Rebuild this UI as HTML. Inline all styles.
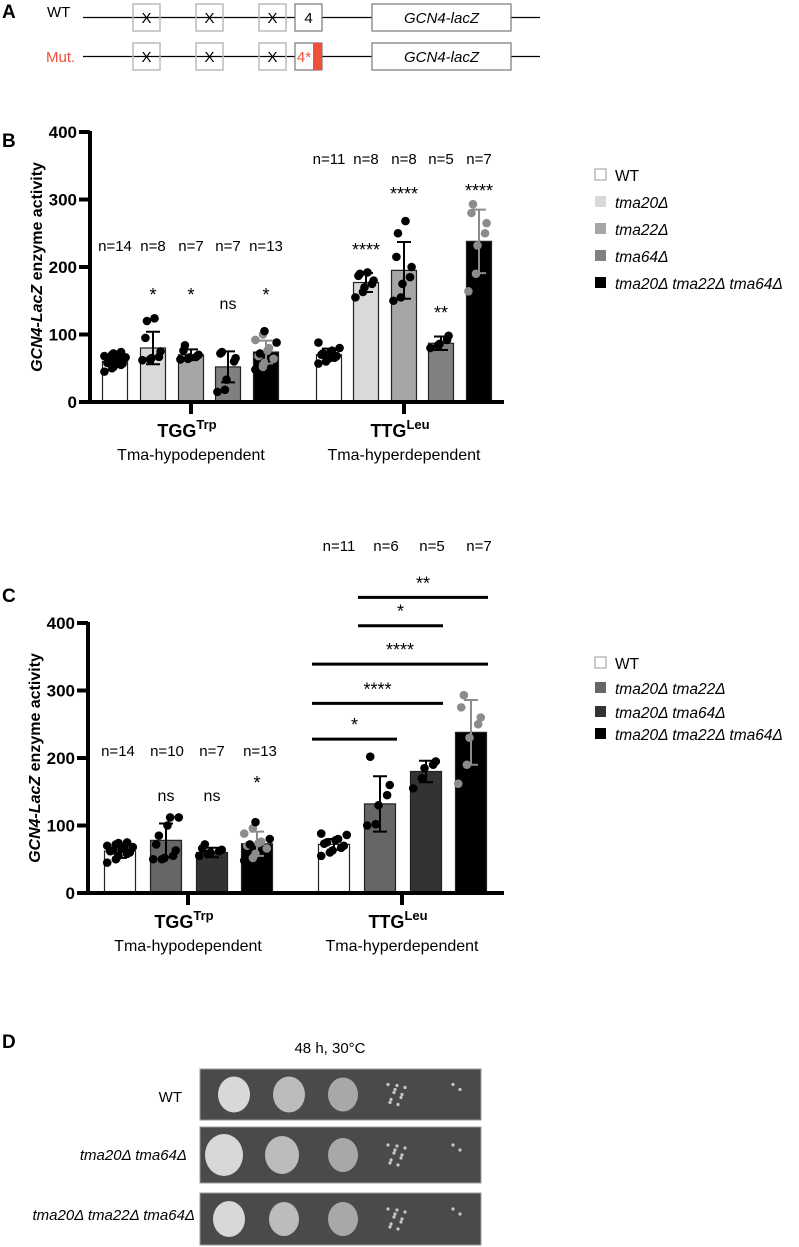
<!DOCTYPE html>
<html><head><meta charset="utf-8"><style>
html,body{margin:0;padding:0;background:#fff}
svg{display:block;font-family:"Liberation Sans",Arial,sans-serif}
</style></head><body>
<svg id="fig" width="799" height="1247" viewBox="0 0 799 1247" xmlns="http://www.w3.org/2000/svg">
<g>
<text x="2" y="18" font-size="19" font-weight="bold">A</text>
<text x="47" y="17" font-size="15">WT</text>
<text x="46" y="62" font-size="15" fill="#f0503a">Mut.</text>
<line x1="83" y1="17.5" x2="540" y2="17.5" stroke="#000" stroke-width="1.2"/>
<line x1="83" y1="56.5" x2="540" y2="56.5" stroke="#000" stroke-width="1.2"/>
<g font-size="15" text-anchor="middle">
<rect x="133" y="4" width="27" height="27" fill="none" stroke="#bbb" stroke-width="1.5"/><text x="146.5" y="23">X</text>
<rect x="196" y="4" width="27" height="27" fill="none" stroke="#bbb" stroke-width="1.5"/><text x="209.5" y="23">X</text>
<rect x="259" y="4" width="27" height="27" fill="none" stroke="#bbb" stroke-width="1.5"/><text x="272.5" y="23">X</text>
<rect x="295" y="4" width="27" height="27" fill="#fff" stroke="#777" stroke-width="1.2"/><text x="308.5" y="23">4</text>
<rect x="372" y="4" width="139" height="27" fill="#fff" stroke="#777" stroke-width="1.2"/><text x="441.5" y="23" font-style="italic">GCN4-lacZ</text>
</g>
<g font-size="15" text-anchor="middle">
<rect x="133" y="43" width="27" height="27" fill="none" stroke="#bbb" stroke-width="1.5"/><text x="146.5" y="62">X</text>
<rect x="196" y="43" width="27" height="27" fill="none" stroke="#bbb" stroke-width="1.5"/><text x="209.5" y="62">X</text>
<rect x="259" y="43" width="27" height="27" fill="none" stroke="#bbb" stroke-width="1.5"/><text x="272.5" y="62">X</text>
<rect x="295" y="43" width="27" height="27" fill="#fff" stroke="#777" stroke-width="1.2"/>
<rect x="313" y="43" width="9" height="27" fill="#f0503a"/>
<text x="304" y="62" fill="#f0503a">4*</text>
<rect x="372" y="43" width="139" height="27" fill="#fff" stroke="#777" stroke-width="1.2"/><text x="441.5" y="62" font-style="italic">GCN4-lacZ</text>
</g>
</g>
<g id="panelB"></g>
<g id="panelC"></g>
<g>
<text x="2" y="1048" font-size="19" font-weight="bold">D</text>
<text x="330" y="1053" font-size="15" text-anchor="middle">48 h, 30°C</text>
<text x="182" y="1102" font-size="15" text-anchor="end">WT</text>
<text x="187" y="1160" font-size="15" text-anchor="end" font-style="italic">tma20Δ tma64Δ</text>
<text x="195" y="1220" font-size="15" text-anchor="end" font-style="italic">tma20Δ tma22Δ tma64Δ</text>
<g id="plates"></g>
</g>
</svg>
<script>
const bCats = ["TGG", "TTG"];
const bMeans = [[60, 80, 70, 52, 74], [70, 177, 195, 87, 238]];
const bSD = [[8, 24, 8, 23, 17], [9, 14, 42, 10, 47]];
const bN = [["n=14","n=8","n=7","n=7","n=13"], ["n=11","n=8","n=8","n=5","n=7"]];
const bSig = [["", "*", "*", "ns", "*"], ["", "****", "****", "**", "****"]];
const bPts = [
 [[45,50,52,55,57,58,60,62,64,66,68,70,72,74],[62,63,65,67,75,95,120,124],[63,64,66,68,70,76,84],[15,18,33,60,65,72,74],[48,52,58,60,64,68,72,76,80,88,92,100,105]],
 [[57,60,63,66,68,70,72,74,76,80,88],[155,163,170,175,180,187,190,192],[150,155,175,185,200,215,250,268],[80,84,86,92,98],[164,190,232,250,265,280,293]]
];
const bLegend = ["WT","tma20Δ","tma22Δ","tma64Δ","tma20Δ tma22Δ tma64Δ"];
const bTicks = [0,100,200,300,400];
const cMeans = [[62, 78, 60, 73], [72, 132, 180, 238]];
const cSD = [[10, 25, 7, 18], [8, 41, 16, 48]];
const cN = [["n=14","n=10","n=7","n=13"], ["n=11","n=6","n=5","n=7"]];
const cSig = [["", "ns", "ns", "*"], ["", "", "", ""]];
const cPts = [
 [[45,50,55,58,60,62,63,65,67,68,70,72,74,75],[50,50,52,55,63,72,85,100,112,112],[55,58,60,62,64,66,72],[48,52,58,62,66,70,72,74,76,80,88,96,105]],
 [[55,60,63,67,70,73,75,78,80,86,88],[100,102,130,145,160,202],[155,170,185,190,195],[162,190,230,250,260,275,293]]
];
const cLegend = ["WT","tma20Δ tma22Δ","tma20Δ tma64Δ","tma20Δ tma22Δ tma64Δ"];
const cBrackets = [[1,3,"**"],[1,2,"*"],[0,3,"****"],[0,2,"****"],[0,1,"*"]];
const cBracketValue = [438, 396, 339, 281, 228];

const NS = "http://www.w3.org/2000/svg";
function mk(parent, tag, attrs, txt){
  const e = document.createElementNS(NS, tag);
  for (const k in attrs) e.setAttribute(k, attrs[k]);
  if (txt !== undefined) e.textContent = txt;
  parent.appendChild(e);
  return e;
}

function drawPanel(o){
  const g = document.getElementById(o.id);
  const y = v => o.y0 - (v/400)*(o.y0 - o.y400);
  const L = mk(g, "text", {x:2, y:o.letterY, "font-size":19, "font-weight":"bold"}, o.letter);
  
  
  o.means.forEach((grp, gi) => {
    grp.forEach((m, bi) => {
      const cx = o.centers[gi][bi];
      const col = o.colors[bi];
      const r = mk(g, "rect", {x:cx-o.bw/2, y:y(m), width:o.bw, height:o.y0-y(m), fill:col, stroke:"#222", "stroke-width":1.2});
      
      
      const last = bi === grp.length-1;
      const dotCol = last ? "#8c8c8c" : "#000";
      const ebCol = last ? "#8c8c8c" : "#000";
      const pts = o.pts[gi][bi];
      pts.forEach((v, k) => {
        const off = ((k % 5) - 2) * (o.bw/5.5) + ((k%2)? 1.5 : -1.5);
        const fillc = (last && k % 3 === 0 && gi === 0) ? "#000" : dotCol;
        const c = mk(g, "circle", {cx:cx+off, cy:y(v), r:4.3, fill:fillc});
        
        
      });
      const sd = o.sd[gi][bi];
      const eb = mk(g, "path", {d:`M${cx} ${y(m-sd)}V${y(m+sd)}M${cx-7} ${y(m+sd)}H${cx+7}M${cx-7} ${y(m-sd)}H${cx+7}`, stroke:ebCol, "stroke-width":2, fill:"none"});
      
      
      const nt = mk(g, "text", {x:o.nX ? o.nX[gi][bi] : cx, y:o.nY[gi], "font-size":15, "text-anchor":"middle"}, o.n[gi][bi]);
      
      
      const s = o.sig[gi][bi];
      if (s) {
        const st = mk(g, "text", {x:cx, y:o.sigY[gi][bi], "font-size": s==="ns"?16:18, "text-anchor":"middle"}, s);
        
        
      }
    });
  });
  const ya = mk(g, "line", {x1:o.ax, y1:o.y400-1, x2:o.ax, y2:o.y0+2, stroke:"#000", "stroke-width":4});
  
  
  const xa = mk(g, "line", {x1:o.ax-10, y1:o.y0, x2:504, y2:o.y0, stroke:"#000", "stroke-width":4});
  
  
  bTicks.forEach(t => {
    mk(g, "line", {x1:o.ax-11, y1:y(t), x2:o.ax, y2:y(t), stroke:"#000", "stroke-width":4});
    const tl = mk(g, "text", {x:o.ax-13, y:y(t)+6, "font-size":17, "font-weight":"bold", "text-anchor":"end"}, t);
    
    
  });
  const yl = mk(g, "text", {x:0, y:0, "font-size":16, "font-weight":"bold", "text-anchor":"middle", transform:`translate(${o.ax-48},${(o.y0+o.y400)/2}) rotate(-90)`});
  
  
  mk(yl, "tspan", {"font-style":"italic"}, "GCN4-LacZ");
  mk(yl, "tspan", {}, " enzyme activity");
  const subs = ["Trp","Leu"], desc = ["Tma-hypodependent","Tma-hyperdependent"];
  o.ticks.forEach((tx, i) => {
    mk(g, "line", {x1:tx, y1:o.y0, x2:tx, y2:o.y0+12, stroke:"#000", "stroke-width":4});
    const ct = mk(g, "text", {x:tx-4, y:o.y0+35, "font-size":18, "font-weight":"bold", "text-anchor":"middle"});
    
    
    mk(ct, "tspan", {}, o.cats[i]);
    mk(ct, "tspan", {dy:-8, "font-size":13}, subs[i]);
    const dt = mk(g, "text", {x:tx, y:o.y0+58, "font-size":16, "text-anchor":"middle"}, desc[i]);
    
    
  });
  o.legend.forEach((name, i) => {
    const ly = o.legY[i];
    const sq = mk(g, "rect", {x:595, y:ly-6, width:11, height:11, fill:o.colors[i], stroke: i===0?"#999":"none", "stroke-width":1});
    
    
    const lt = mk(g, "text", {x:615, y:ly+6, "font-size":15.5, "font-style": i===0?"normal":"italic"}, name);
    
    
  });
  return y;
}

drawPanel({
  id:"panelB", letter:"B", letterY:147, y0:402, y400:132, ax:90, bw:25,
  cats:bCats, means:bMeans, sd:bSD, pts:bPts, n:bN, sig:bSig,
  centers:[[115,153,191,228,266],[329,366,404,441,479]],
  colors:["#ffffff","#d9d9d9","#a6a6a8","#808080","#000000"],
  nY:[251,164], sigY:[[0,301,301,309,301],[0,256,200,319,197]],
  ticks:[191,404], legend:bLegend, legY:[175,202,229,256,283]
});
const yC = drawPanel({
  id:"panelC", letter:"C", letterY:602, y0:893, y400:623, ax:88, bw:31,
  cats:bCats, means:cMeans, sd:cSD, pts:cPts, n:cN, sig:cSig,
  centers:[[120,166,212,257],[334,380,426,471]],
  nX:[[118,167,212,260],[339,386,432,479]],
  colors:["#ffffff","#666666","#333333","#000000"],
  nY:[756,551], sigY:[[0,801,801,789],[0,0,0,0]],
  ticks:[188,402], legend:cLegend, legY:[663,688,712,734]
});
const pc = document.getElementById("panelC");
const cCent = [334,380,426,471];
cBrackets.forEach((b, i) => {
  const yy = yC(cBracketValue[i]);
  const x1 = cCent[b[0]] - 22, x2 = cCent[b[1]] + 17;
  const ln = mk(pc, "line", {x1:x1, y1:yy, x2:x2, y2:yy, stroke:"#000", "stroke-width":3});
  
  
  const t = mk(pc, "text", {x:(x1+x2)/2, y:yy-8, "font-size":18, "text-anchor":"middle"}, b[2]);
  
  
});
const pl = document.getElementById("plates");
const rows = [[1069,1120],[1127,1183],[1193,1245]];
const spotX = [[234,289,343,396,461],[224,282,343,396,461],[229,284,343,396,461]];
const spotR = [[16,16,15,0,0],[19,17,15,0,0],[16,15,15,0,0]];
rows.forEach((r, ri) => {
  const p = mk(pl, "rect", {x:200, y:r[0], width:281, height:r[1]-r[0], fill:"#4a4a4a", stroke:"#999", "stroke-width":1});
  
  
  const cy = (r[0]+r[1])/2;
  spotX[ri].forEach((sx, si) => {
    if (spotR[ri][si] > 0) {
      const s = mk(pl, "ellipse", {cx:sx, cy:cy, rx:spotR[ri][si], ry:spotR[ri][si]+2, fill: si===0?"#d8d8d8": si===1?"#bcbcbc":"#a8a8a8"});
      
      
    } else {
      const n = si===3 ? 10 : 2;
      for (let k=0;k<n;k++){
        const d = mk(pl, "circle", {cx:sx-8+(k*7)%18, cy:cy-10+(k*5)%22, r:1.6, fill:"#c8c8c8"});
        
        
      }
    }
  });
});
</script>
</body></html>
